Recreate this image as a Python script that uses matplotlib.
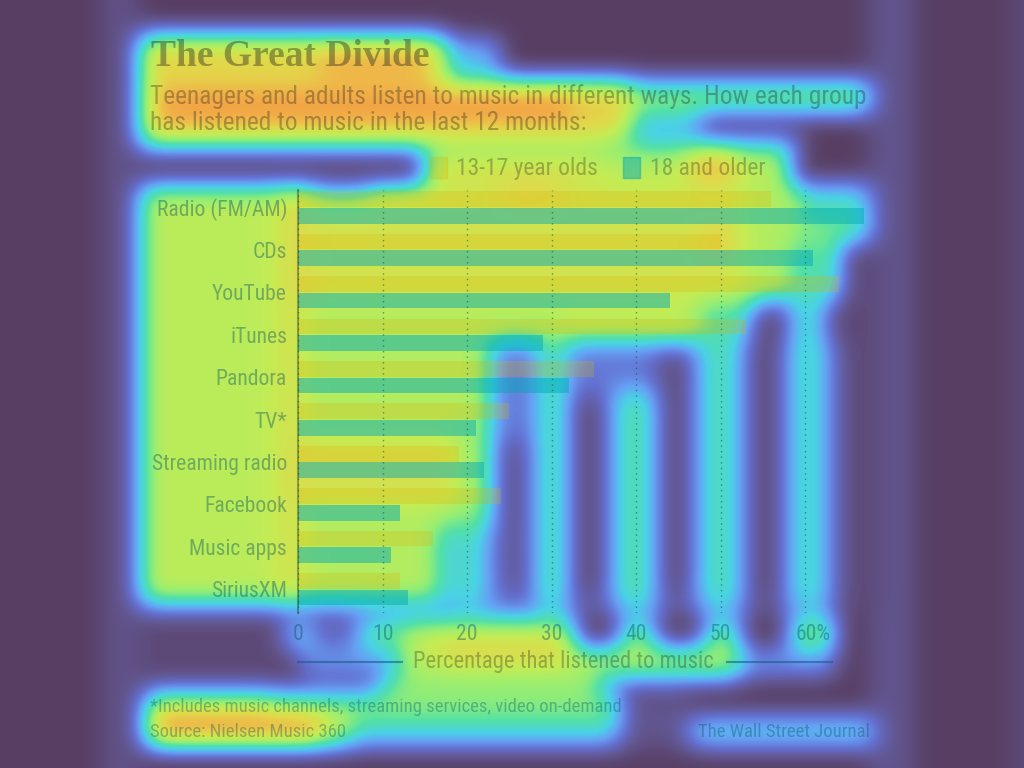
import numpy as np
import matplotlib
matplotlib.use("Agg")
import matplotlib.pyplot as plt
from matplotlib import font_manager
from matplotlib.font_manager import FontProperties
from matplotlib.colors import LinearSegmentedColormap
from matplotlib.patches import Rectangle
from matplotlib.transforms import ScaledTranslation

# chart data (percent who listened in last 12 months)
categories = ["Radio (FM/AM)", "CDs", "YouTube", "iTunes", "Pandora", "TV*",
              "Streaming radio", "Facebook", "Music apps", "SiriusXM"]
teens = [56, 50, 64, 53, 35, 25, 19, 24, 16, 12]
adults = [67, 61, 44, 29, 32, 21, 22, 12, 11, 13]
xticks = [0, 10, 20, 30, 40, 50, 60]
xtick_labels = ["0", "10", "20", "30", "40", "50", "60%"]

# attention heat overlay: (x0, x1, y0, y1, level) in pixels
heat_regions = [
    (100, 140, 0, 768, 0.07), (868, 915, 0, 768, 0.08), (1008, 1024, 0, 768, 0.04),
    # title + subtitle
    (140, 445, 35, 80, 0.78), (445, 500, 40, 75, 0.35),
    (140, 870, 82, 112, 0.6), (140, 630, 80, 140, 0.8),
    (160, 570, 95, 118, 0.97), (320, 425, 50, 80, 0.88), (630, 700, 112, 135, 0.35),
    (140, 600, 140, 150, 0.55), (600, 800, 138, 152, 0.45),
    # legend
    (425, 790, 152, 185, 0.66), (430, 600, 155, 182, 0.74), (690, 735, 150, 180, 0.88),
    # upper rows
    (140, 870, 185, 300, 0.64), (300, 740, 188, 300, 0.72), (500, 560, 185, 200, 0.82),
    (700, 735, 230, 255, 0.82), (800, 870, 185, 228, 0.45), (300, 370, 186, 200, 0.4),
    # label column
    (140, 300, 185, 605, 0.66), (280, 312, 185, 605, 0.76),
    # middle rows
    (300, 545, 300, 390, 0.64), (545, 760, 300, 340, 0.62), (560, 740, 315, 335, 0.72),
    (545, 655, 340, 390, 0.58),
    (490, 880, 340, 612, 0.2),
    # lower rows
    (300, 490, 390, 605, 0.64), (300, 480, 440, 500, 0.74), (440, 500, 525, 610, 0.3),
    (460, 475, 420, 610, 0.55), (540, 565, 340, 610, 0.52), (615, 655, 390, 610, 0.48),
    (700, 740, 300, 610, 0.46), (790, 825, 240, 610, 0.44),
    (498, 525, 440, 595, 0.06), (572, 605, 395, 600, 0.04), (658, 690, 350, 600, 0.04),
    (748, 782, 305, 605, 0.04), (838, 880, 240, 612, 0.04),
    (140, 285, 605, 690, 0.04),
    # tick labels, axis title
    (285, 315, 620, 648, 0.42), (320, 360, 615, 650, 0.15), (360, 405, 618, 648, 0.55),
    (405, 575, 618, 648, 0.68), (620, 655, 618, 648, 0.55), (705, 740, 618, 648, 0.55),
    (790, 835, 618, 648, 0.62),
    (300, 400, 650, 675, 0.3), (400, 740, 648, 678, 0.66), (440, 570, 640, 665, 0.78),
    (740, 835, 650, 675, 0.3), (380, 600, 676, 694, 0.55),
    # footnotes
    (145, 625, 692, 718, 0.58), (145, 270, 692, 718, 0.68),
    (145, 350, 718, 746, 0.7), (150, 320, 715, 745, 0.95),
    (350, 620, 718, 746, 0.42), (690, 875, 718, 746, 0.42), (620, 690, 690, 750, 0.08),
]


def find_narrow():
    # prefer a condensed / narrow sans if one is installed
    best = None
    for f in font_manager.fontManager.ttflist:
        nm = f.name
        narrow = ("Narrow" in nm or "Condensed" in nm or
                  str(f.stretch) in ("condensed", "semi-condensed"))
        if not narrow or f.style != "normal" or "Serif" in nm or "Mono" in nm:
            continue
        if str(f.weight) not in ("400", "normal", "regular", "book"):
            continue
        best = f.fname
        if "Liberation" in nm:
            break
    if best:
        return FontProperties(fname=best)
    return FontProperties(family="Roboto")


SANS = find_narrow()
SERIF = FontProperties(family="Liberation Serif", weight="bold")

W, H = 1024, 768


def box_blur(a, r, axis):
    a = np.moveaxis(a, axis, -1)
    p = np.pad(a, [(0, 0), (r + 1, r)], mode="edge")
    c = np.cumsum(p, axis=-1)
    out = (c[:, 2 * r + 1:] - c[:, :-2 * r - 1]) / (2 * r + 1)
    return np.moveaxis(out, -1, axis)


heat = np.zeros((H, W))
for x0, x1, y0, y1, lev in heat_regions:
    heat[y0:y1, x0:x1] = lev
for _ in range(3):
    heat = box_blur(heat, 12, 0)
    heat = box_blur(heat, 12, 1)

heat_cmap = LinearSegmentedColormap.from_list("heat", [
    (0.0, "#583e62"), (0.08, "#625690"), (0.18, "#6470d0"), (0.28, "#66a0f4"),
    (0.38, "#4ad2e6"), (0.48, "#52e0a8"), (0.58, "#96ee74"), (0.68, "#c4ec54"),
    (0.78, "#e2d84a"), (0.88, "#f2b048"), (1.0, "#f08a3c")])

fig = plt.figure(figsize=(10.24, 7.68), dpi=100)
renderer = fig.canvas.get_renderer()


def fit(t, width):
    w = t.get_window_extent(renderer).width
    t.set_fontsize(t.get_fontsize() * width / w)
    return t.get_fontsize()


# background: heat overlay + all free text, in pixel coords
bg = fig.add_axes([0, 0, 1, 1], zorder=-1)
bg.imshow(heat, cmap=heat_cmap, vmin=0, vmax=1, extent=[0, W, H, 0],
          aspect="auto", interpolation="bilinear")
bg.set_xlim(0, W)
bg.set_ylim(H, 0)
bg.axis("off")

dark = "#1a1a1a"
teal = "#004a60"

t = bg.text(151, 66, "The Great Divide", fontproperties=SERIF, fontsize=26,
            color=dark, alpha=0.38, va="baseline")
fit(t, 279)
t = bg.text(150, 104, "Teenagers and adults listen to music in different ways. How each group",
            fontproperties=SANS, fontsize=18, color=dark, alpha=0.32, va="baseline")
sub_size = fit(t, 716)
bg.text(150, 130, "has listened to music in the last 12 months:",
        fontproperties=SANS, fontsize=sub_size, color=dark, alpha=0.32, va="baseline")

teen_col, teen_a = "#e0b000", 0.25
adult_col, adult_a = "#00a8b8", 0.48
bg.add_patch(Rectangle((430, 157), 17, 21, color=teen_col, alpha=teen_a))
bg.add_patch(Rectangle((623, 157), 17, 21, color=adult_col, alpha=adult_a))
t = bg.text(456, 175, "13-17 year olds", fontproperties=SANS, fontsize=16, color=dark,
            alpha=0.3, va="baseline")
leg_size = fit(t, 142)
bg.text(650, 175, "18 and older", fontproperties=SANS, fontsize=leg_size, color=dark,
        alpha=0.3, va="baseline")

t = bg.text(563, 668, "Percentage that listened to music", fontproperties=SANS,
            fontsize=16, color=dark, alpha=0.3, ha="center", va="baseline")
fit(t, 302)
bg.plot([298, 402], [662, 662], color="#1a5a90", alpha=0.6, lw=1.5)
bg.plot([727, 832], [662, 662], color="#1a5a90", alpha=0.6, lw=1.5)

t = bg.text(150, 712, "*Includes music channels, streaming services, video on-demand",
            fontproperties=SANS, fontsize=13, color=teal, alpha=0.35, va="baseline")
foot_size = fit(t, 470)
bg.text(150, 737, "Source: Nielsen Music 360", fontproperties=SANS, fontsize=foot_size,
        color=teal, alpha=0.35, va="baseline")
bg.text(870, 737, "The Wall Street Journal", fontproperties=SANS, fontsize=foot_size,
        color=teal, alpha=0.35, ha="right", va="baseline")

# the bar chart
ax = fig.add_axes([298.2 / W, 1 - 613 / H, 570 / W, (613 - 190) / H])
ax.patch.set_alpha(0)
y = np.arange(len(categories))
ax.barh(y - 0.195, teens, height=0.37, color=teen_col, alpha=teen_a, lw=0)
ax.barh(y + 0.195, adults, height=0.37, color=adult_col, alpha=adult_a, lw=0)

ax.set_xlim(0, 67.48)
ax.set_ylim(9.56, -0.41)
ax.set_xticks(xticks)
ax.set_xticklabels(xtick_labels)
ax.set_yticks(y)
ax.set_yticklabels(categories)
ax.xaxis.grid(True, linestyle=(0, (1, 3)), color="#004040", alpha=0.5, lw=1)
ax.tick_params(length=0, pad=8, labelcolor=teal)

probe = bg.text(0, 0, "Streaming radio", fontproperties=SANS, fontsize=16)
cat_size = fit(probe, 136)
probe.remove()
for lab in ax.get_xticklabels() + ax.get_yticklabels():
    lab.set_fontproperties(SANS)
    lab.set_fontsize(cat_size)
    lab.set_alpha(0.4)
last = ax.get_xticklabels()[-1]
last.set_transform(last.get_transform() + ScaledTranslation(8 / 100, 0, fig.dpi_scale_trans))
for s in ["top", "right", "bottom"]:
    ax.spines[s].set_visible(False)
ax.spines["left"].set_color("#203020")
ax.spines["left"].set_alpha(0.4)
ax.spines["left"].set_linewidth(1.5)

fig.savefig("out.png", dpi=100)
